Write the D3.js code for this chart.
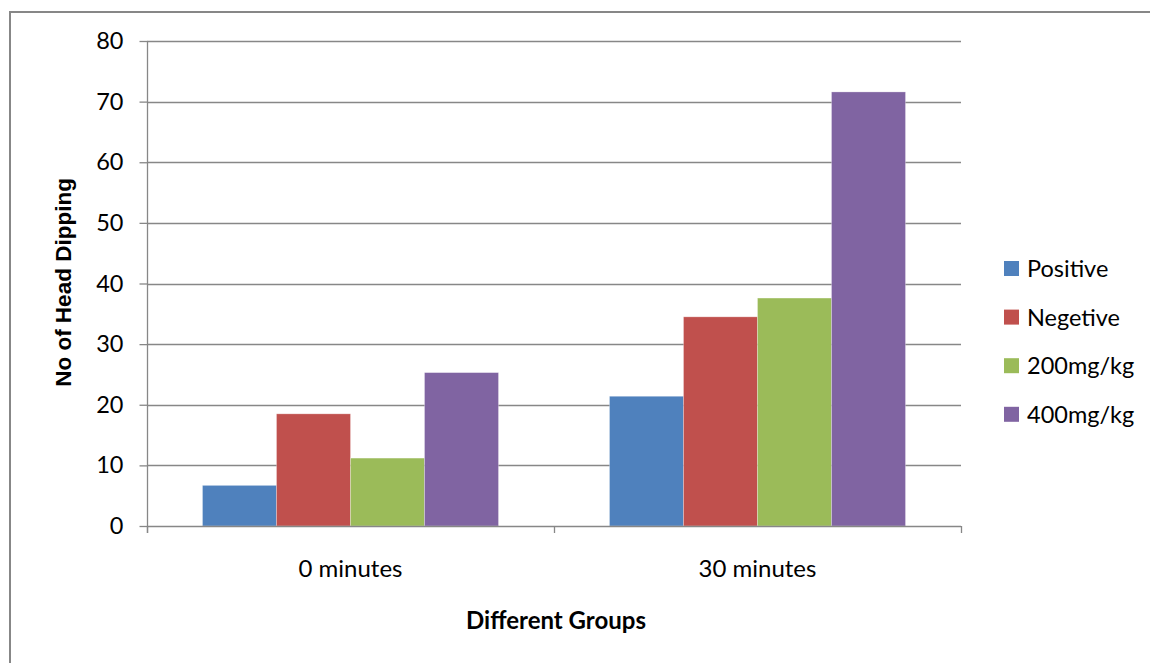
<!DOCTYPE html>
<html>
<head>
<meta charset="utf-8">
<script src="https://cdn.jsdelivr.net/npm/d3@7"></script>
<style>
  html, body { margin: 0; padding: 0; background: #fff; }
  svg { display: block; }
</style>
</head>
<body>
<svg id="chart" width="1150" height="663"></svg>
<script>
const categories = ["0 minutes", "30 minutes"];
const seriesNames = ["Positive", "Negetive", "200mg/kg", "400mg/kg"];
const positive = [6.7, 21.4];
const negetive = [18.5, 34.5];
const mg200 = [11.2, 37.6];
const mg400 = [25.3, 71.6];
const yTicks = [0, 10, 20, 30, 40, 50, 60, 70, 80];
const colors = ["#4F81BD", "#C0504D", "#9BBB59", "#8064A2"];
const yTitle = "No of Head Dipping";
const xTitle = "Different Groups";

const seriesValues = [positive, negetive, mg200, mg400];

const svg = d3.select("#chart");
const W = 1150, H = 663;
const plot = { left: 147, right: 961, top: 41, bottom: 526 };
const gridColor = "#878787";
const font = "Lato, 'Open Sans', sans-serif";

// outer chart border (extends beyond the frame on right and bottom)
svg.append("rect")
  .attr("x", 10).attr("y", 12)
  .attr("width", W + 20).attr("height", H + 20)
  .attr("fill", "#fff")
  .attr("stroke", gridColor).attr("stroke-width", 2);

const y = d3.scaleLinear().domain([0, 80]).range([plot.bottom, plot.top]);
const x0 = d3.scaleBand().domain(categories).range([plot.left, plot.right])
  .paddingInner(0.2727).paddingOuter(0.13635);
const x1 = d3.scaleBand().domain(seriesNames).range([0, x0.bandwidth()]).padding(0);

// gridlines
svg.append("g").selectAll("line").data(yTicks.filter(d => d > 0)).join("line")
  .attr("x1", plot.left).attr("x2", plot.right)
  .attr("y1", d => Math.round(y(d)) + 0.5).attr("y2", d => Math.round(y(d)) + 0.5)
  .attr("stroke", gridColor).attr("stroke-width", 1.3);

// bars
const groups = svg.append("g").selectAll("g").data(categories).join("g")
  .attr("transform", c => `translate(${x0(c)},0)`);
groups.selectAll("rect")
  .data((c, ci) => seriesNames.map((s, si) => ({ s, si, v: seriesValues[si][ci] })))
  .join("rect")
  .attr("x", d => x1(d.s))
  .attr("width", x1.bandwidth())
  .attr("y", d => y(d.v))
  .attr("height", d => y(0) - y(d.v))
  .attr("fill", d => colors[d.si])
  .attr("stroke", "#ffffff").attr("stroke-opacity", 0.35).attr("stroke-width", 0.8);

// y axis
const yAxis = svg.append("g")
  .attr("transform", `translate(${plot.left + 0.5},0)`)
  .call(d3.axisLeft(y).tickValues(yTicks).tickSize(8).tickSizeOuter(0).tickPadding(16));
yAxis.select(".domain").attr("stroke", gridColor).attr("stroke-width", 1.3)
  .attr("d", `M0,${plot.top}V${plot.bottom + 7}`);
yAxis.selectAll(".tick line").attr("stroke", gridColor).attr("stroke-width", 1.3);
yAxis.selectAll(".tick text")
  .attr("font-family", font).attr("font-size", 23.5).attr("fill", "#000");

// x axis line and category-boundary ticks
const xAxis = svg.append("g");
xAxis.append("line")
  .attr("x1", plot.left).attr("x2", plot.right)
  .attr("y1", plot.bottom + 0.5).attr("y2", plot.bottom + 0.5)
  .attr("stroke", gridColor).attr("stroke-width", 1.3);
const boundaries = d3.range(categories.length + 1).map(i => plot.left + i * x0.step());
xAxis.selectAll("line.tk").data(boundaries).join("line").attr("class", "tk")
  .attr("x1", d => Math.round(d) + 0.5).attr("x2", d => Math.round(d) + 0.5)
  .attr("y1", plot.bottom).attr("y2", plot.bottom + 7)
  .attr("stroke", gridColor).attr("stroke-width", 1.3);
xAxis.selectAll("text").data(categories).join("text")
  .attr("x", c => x0(c) + x0.bandwidth() / 2)
  .attr("y", 577)
  .attr("text-anchor", "middle")
  .attr("font-family", font).attr("font-size", 24).attr("fill", "#000")
  .text(c => c);

// axis titles
svg.append("text")
  .attr("x", (plot.left + plot.right) / 2 + 2).attr("y", 629)
  .attr("text-anchor", "middle")
  .attr("font-family", font).attr("font-weight", "bold").attr("font-size", 24)
  .attr("fill", "#000").text(xTitle);

svg.append("text")
  .attr("transform", `translate(71,${(plot.top + plot.bottom) / 2 - 1}) rotate(-90)`)
  .attr("text-anchor", "middle")
  .attr("font-family", "'Liberation Sans', Arial, sans-serif").attr("font-weight", "bold")
  .attr("font-size", 22.5).attr("fill", "#000").text(yTitle);

// legend
const legend = svg.append("g").attr("transform", "translate(1004,261)");
const li = legend.selectAll("g").data(seriesNames).join("g")
  .attr("transform", (d, i) => `translate(0,${i * 48.6})`);
li.append("rect").attr("width", 15).attr("height", 15).attr("fill", (d, i) => colors[i]);
li.append("text").attr("x", 23).attr("y", 16)
  .attr("font-family", font).attr("font-size", 23.5).attr("fill", "#000")
  .text(d => d);
</script>
</body>
</html>
